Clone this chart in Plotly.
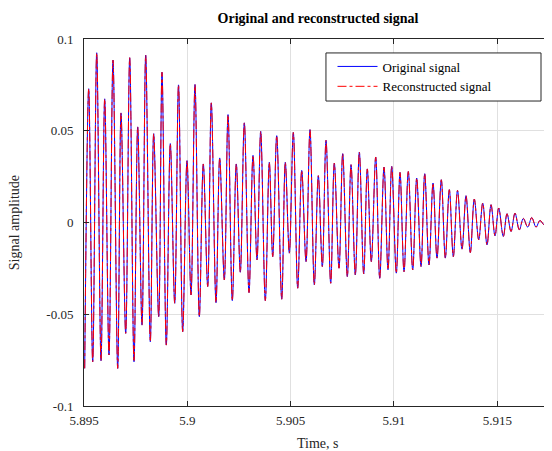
import plotly.graph_objects as go

# time of each extremum (s)
time_s = [5.895034, 5.895227, 5.895421, 5.895615, 5.895823, 5.896002, 5.896210, 5.896404,
          5.896631, 5.896791, 5.897018, 5.897212, 5.897420, 5.897599, 5.897807, 5.897986,
          5.898209, 5.898373, 5.898615, 5.898775, 5.898983, 5.899177, 5.899390, 5.899574,
          5.899777, 5.899985, 5.900179, 5.900372, 5.900581, 5.900774, 5.900987, 5.901161,
          5.901389, 5.901568, 5.901791, 5.901970, 5.902178, 5.902371, 5.902565, 5.902759,
          5.902986, 5.903180, 5.903373, 5.903552, 5.903775, 5.903969, 5.904133, 5.904327,
          5.904569, 5.904743, 5.904937, 5.905130, 5.905343, 5.905537, 5.905745, 5.905938,
          5.906147, 5.906340, 5.906534, 5.906713, 5.906940, 5.907115, 5.907342, 5.907521,
          5.907744, 5.907923, 5.908131, 5.908325, 5.908537, 5.908712, 5.908905, 5.909118,
          5.909312, 5.909520, 5.909714, 5.909893, 5.910115, 5.910294, 5.910488, 5.910696,
          5.910909, 5.911103, 5.911311, 5.911490, 5.911698, 5.911892, 5.912085, 5.912293,
          5.912487, 5.912681, 5.912874, 5.913077, 5.913295, 5.913489, 5.913697, 5.913890,
          5.914103, 5.914297, 5.914505, 5.914699, 5.914892, 5.915071, 5.915294, 5.915473,
          5.915667, 5.915860, 5.916069, 5.916262, 5.916475, 5.916669, 5.916877, 5.917070,
          5.917279, 5.917506, 5.917650]

original = [-0.0795, 0.0729, -0.0759, 0.0925, -0.0753, 0.0674, -0.0722, 0.0885,
            -0.0795, 0.0597, -0.0604, 0.0898, -0.0759, 0.0521, -0.0559, 0.0912,
            -0.0650, 0.0484, -0.0513, 0.0819, -0.0668, 0.0430, -0.0440, 0.0750,
            -0.0595, 0.0337, -0.0395, 0.0752, -0.0513, 0.0319, -0.0349, 0.0652,
            -0.0437, 0.0352, -0.0313, 0.0588, -0.0426, 0.0319, -0.0271, 0.0543,
            -0.0382, 0.0366, -0.0204, 0.0497, -0.0426, 0.0328, -0.0186, 0.0473,
            -0.0418, 0.0328, -0.0167, 0.0491, -0.0358, 0.0284, -0.0213, 0.0506,
            -0.0340, 0.0255, -0.0240, 0.0448, -0.0331, 0.0324, -0.0249, 0.0375,
            -0.0295, 0.0315, -0.0286, 0.0384, -0.0280, 0.0292, -0.0213, 0.0357,
            -0.0304, 0.0302, -0.0258, 0.0306, -0.0276, 0.0273, -0.0268, 0.0278,
            -0.0258, 0.0242, -0.0240, 0.0266, -0.0231, 0.0215, -0.0194, 0.0233,
            -0.0194, 0.0179, -0.0186, 0.0175, -0.0145, 0.0146, -0.0164, 0.0128,
            -0.0094, 0.0106, -0.0122, 0.0097, -0.0073, 0.0079, -0.0076, 0.0048,
            -0.0049, 0.0051, -0.0040, 0.0022, -0.0025, 0.0027, -0.0025, 0.0011,
            -0.0013, 0.0015, 0.0005]

# reconstruction lies on top of the original in the picture
reconstructed = list(original)

x_ticks = [5.895, 5.9, 5.905, 5.91, 5.915]
x_labels = ["5.895", "5.9", "5.905", "5.91", "5.915"]
y_ticks = [-0.1, -0.05, 0, 0.05, 0.1]
y_labels = ["-0.1", "-0.05", "0", "0.05", "0.1"]

serif = "Liberation Serif, Times New Roman, serif"

fig = go.Figure()
fig.add_trace(go.Scatter(x=time_s, y=original, mode="lines", name="Original signal",
                         line=dict(color="#0000ff", width=1, shape="spline")))
fig.add_trace(go.Scatter(x=time_s, y=reconstructed, mode="lines", name="Reconstructed signal",
                         line=dict(color="#ff0000", width=1, dash="dashdot", shape="spline")))

axis_style = dict(showline=True, linecolor="#262626", linewidth=1, mirror="ticks",
                  ticks="inside", ticklen=5, tickcolor="#262626", automargin=False,
                  showgrid=True, gridcolor="#e0e0e0", gridwidth=1, zeroline=False,
                  tickfont=dict(family=serif, size=13, color="#262626"))

fig.update_xaxes(range=[5.895, 5.91765], tickvals=x_ticks, ticktext=x_labels,
                 ticklabelstandoff=2, **axis_style)
fig.update_yaxes(range=[-0.1, 0.1], tickvals=y_ticks, ticktext=y_labels,
                 ticklabelstandoff=7, **axis_style)

# axis titles as annotations so the plot area stays put
fig.add_annotation(text="Time, s", xref="paper", yref="paper", x=0.5, y=-0.102,
                   yanchor="middle", showarrow=False,
                   font=dict(family=serif, size=14, color="#262626"))
fig.add_annotation(text="Signal amplitude", xref="paper", yref="paper", x=-0.148, y=0.5,
                   xanchor="center", yanchor="middle", textangle=-90, showarrow=False,
                   font=dict(family=serif, size=14, color="#262626"))

# legend box drawn as a shape, matlab style
fig.add_shape(type="rect", xref="paper", yref="paper", x0=0.517, x1=0.9765, y0=0.831, y1=0.962,
              line=dict(color="#262626", width=1), fillcolor="white", layer="above")

# page body has an 8px margin, so the figure is 8px smaller each way
fig.update_layout(
    width=544, height=443,
    margin=dict(l=76, r=0, t=31, b=45),
    plot_bgcolor="white", paper_bgcolor="white",
    title=dict(text="<b>Original and reconstructed signal</b>", x=0.5, xref="paper",
               y=0.977, yref="container", yanchor="middle",
               font=dict(family=serif, size=14, color="black")),
    legend=dict(x=0.531, y=0.966, xanchor="left", yanchor="top", bgcolor="rgba(0,0,0,0)",
                borderwidth=0, font=dict(family=serif, size=13, color="black"),
                tracegroupgap=0, itemwidth=40),
    showlegend=True,
)

fig.write_html("out.html")
